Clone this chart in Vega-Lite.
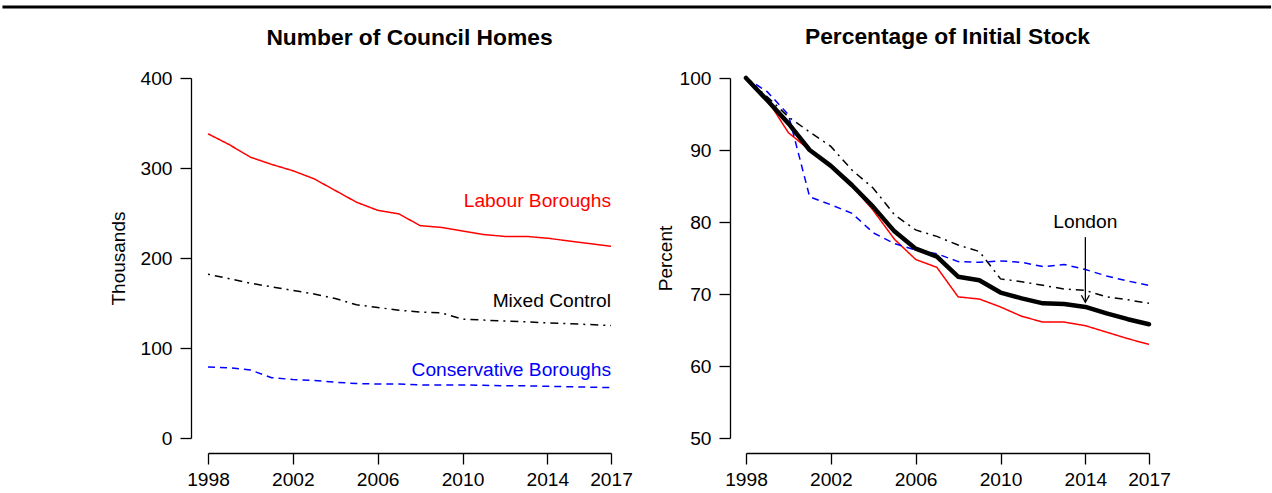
{
  "$schema": "https://vega.github.io/schema/vega-lite/v6.json",
  "padding": {"left": 0, "top": 5, "right": 0, "bottom": 0},
  "bounds": "flush",
  "spacing": 135,
  "config": {
    "view": {"stroke": null},
    "font": "Liberation Sans",
    "axis": {
      "domainColor": "black", "tickColor": "black", "labelColor": "black", "titleColor": "black",
      "labelFont": "Liberation Sans", "titleFont": "Liberation Sans",
      "labelFontSize": 19.2, "titleFontSize": 19, "titleFontWeight": "normal",
      "tickSize": 11, "grid": false, "domainWidth": 1.3, "tickWidth": 1.3,
      "labelFlush": false, "labelOverlap": false, "labelBound": false
    },
    "title": {"font": "Liberation Sans", "fontSize": 22.8, "fontWeight": "bold", "color": "black", "frame": "group", "baseline": "alphabetic", "offset": 30}
  },
  "datasets": {
    "homes": [
      {"year": 1998, "group": "Labour", "value": 338}, {"year": 1999, "group": "Labour", "value": 326},
      {"year": 2000, "group": "Labour", "value": 312}, {"year": 2001, "group": "Labour", "value": 304},
      {"year": 2002, "group": "Labour", "value": 297}, {"year": 2003, "group": "Labour", "value": 288},
      {"year": 2004, "group": "Labour", "value": 275}, {"year": 2005, "group": "Labour", "value": 262},
      {"year": 2006, "group": "Labour", "value": 253}, {"year": 2007, "group": "Labour", "value": 249},
      {"year": 2008, "group": "Labour", "value": 236}, {"year": 2009, "group": "Labour", "value": 234},
      {"year": 2010, "group": "Labour", "value": 230}, {"year": 2011, "group": "Labour", "value": 226},
      {"year": 2012, "group": "Labour", "value": 224}, {"year": 2013, "group": "Labour", "value": 224},
      {"year": 2014, "group": "Labour", "value": 222}, {"year": 2015, "group": "Labour", "value": 219},
      {"year": 2016, "group": "Labour", "value": 216}, {"year": 2017, "group": "Labour", "value": 213},
      {"year": 1998, "group": "Mixed", "value": 182}, {"year": 1999, "group": "Mixed", "value": 177},
      {"year": 2000, "group": "Mixed", "value": 172}, {"year": 2001, "group": "Mixed", "value": 168},
      {"year": 2002, "group": "Mixed", "value": 164}, {"year": 2003, "group": "Mixed", "value": 160},
      {"year": 2004, "group": "Mixed", "value": 155}, {"year": 2005, "group": "Mixed", "value": 148},
      {"year": 2006, "group": "Mixed", "value": 145}, {"year": 2007, "group": "Mixed", "value": 142},
      {"year": 2008, "group": "Mixed", "value": 140}, {"year": 2009, "group": "Mixed", "value": 139},
      {"year": 2010, "group": "Mixed", "value": 132}, {"year": 2011, "group": "Mixed", "value": 131},
      {"year": 2012, "group": "Mixed", "value": 130}, {"year": 2013, "group": "Mixed", "value": 129},
      {"year": 2014, "group": "Mixed", "value": 128}, {"year": 2015, "group": "Mixed", "value": 127},
      {"year": 2016, "group": "Mixed", "value": 126}, {"year": 2017, "group": "Mixed", "value": 125},
      {"year": 1998, "group": "Conservative", "value": 79}, {"year": 1999, "group": "Conservative", "value": 78},
      {"year": 2000, "group": "Conservative", "value": 75.5}, {"year": 2001, "group": "Conservative", "value": 67},
      {"year": 2002, "group": "Conservative", "value": 65}, {"year": 2003, "group": "Conservative", "value": 64},
      {"year": 2004, "group": "Conservative", "value": 62}, {"year": 2005, "group": "Conservative", "value": 60.5},
      {"year": 2006, "group": "Conservative", "value": 60}, {"year": 2007, "group": "Conservative", "value": 60},
      {"year": 2008, "group": "Conservative", "value": 59}, {"year": 2009, "group": "Conservative", "value": 59},
      {"year": 2010, "group": "Conservative", "value": 59}, {"year": 2011, "group": "Conservative", "value": 58.5},
      {"year": 2012, "group": "Conservative", "value": 58}, {"year": 2013, "group": "Conservative", "value": 58},
      {"year": 2014, "group": "Conservative", "value": 57.5}, {"year": 2015, "group": "Conservative", "value": 57},
      {"year": 2016, "group": "Conservative", "value": 56.5}, {"year": 2017, "group": "Conservative", "value": 56}
    ],
    "pct": [
      {"year": 1998, "group": "Labour", "value": 100}, {"year": 1999, "group": "Labour", "value": 97.0},
      {"year": 2000, "group": "Labour", "value": 92.4}, {"year": 2001, "group": "Labour", "value": 90.0},
      {"year": 2002, "group": "Labour", "value": 87.8}, {"year": 2003, "group": "Labour", "value": 85.1},
      {"year": 2004, "group": "Labour", "value": 81.6}, {"year": 2005, "group": "Labour", "value": 77.6},
      {"year": 2006, "group": "Labour", "value": 74.8}, {"year": 2007, "group": "Labour", "value": 73.7},
      {"year": 2008, "group": "Labour", "value": 69.6}, {"year": 2009, "group": "Labour", "value": 69.3},
      {"year": 2010, "group": "Labour", "value": 68.2}, {"year": 2011, "group": "Labour", "value": 66.9},
      {"year": 2012, "group": "Labour", "value": 66.1}, {"year": 2013, "group": "Labour", "value": 66.1},
      {"year": 2014, "group": "Labour", "value": 65.6}, {"year": 2015, "group": "Labour", "value": 64.7},
      {"year": 2016, "group": "Labour", "value": 63.8}, {"year": 2017, "group": "Labour", "value": 63.0},
      {"year": 1998, "group": "Mixed", "value": 100}, {"year": 1999, "group": "Mixed", "value": 97.4},
      {"year": 2000, "group": "Mixed", "value": 94.6}, {"year": 2001, "group": "Mixed", "value": 92.5},
      {"year": 2002, "group": "Mixed", "value": 90.5}, {"year": 2003, "group": "Mixed", "value": 87.2},
      {"year": 2004, "group": "Mixed", "value": 84.7}, {"year": 2005, "group": "Mixed", "value": 81.0},
      {"year": 2006, "group": "Mixed", "value": 78.9}, {"year": 2007, "group": "Mixed", "value": 78.0},
      {"year": 2008, "group": "Mixed", "value": 76.8}, {"year": 2009, "group": "Mixed", "value": 75.9},
      {"year": 2010, "group": "Mixed", "value": 72.1}, {"year": 2011, "group": "Mixed", "value": 71.7},
      {"year": 2012, "group": "Mixed", "value": 71.2}, {"year": 2013, "group": "Mixed", "value": 70.7},
      {"year": 2014, "group": "Mixed", "value": 70.5}, {"year": 2015, "group": "Mixed", "value": 69.6},
      {"year": 2016, "group": "Mixed", "value": 69.2}, {"year": 2017, "group": "Mixed", "value": 68.7},
      {"year": 1998, "group": "Conservative", "value": 100}, {"year": 1999, "group": "Conservative", "value": 98.1},
      {"year": 2000, "group": "Conservative", "value": 94.9}, {"year": 2001, "group": "Conservative", "value": 83.5},
      {"year": 2002, "group": "Conservative", "value": 82.4}, {"year": 2003, "group": "Conservative", "value": 81.2},
      {"year": 2004, "group": "Conservative", "value": 78.5}, {"year": 2005, "group": "Conservative", "value": 77.0},
      {"year": 2006, "group": "Conservative", "value": 76.1}, {"year": 2007, "group": "Conservative", "value": 75.6},
      {"year": 2008, "group": "Conservative", "value": 74.5}, {"year": 2009, "group": "Conservative", "value": 74.4},
      {"year": 2010, "group": "Conservative", "value": 74.6}, {"year": 2011, "group": "Conservative", "value": 74.4},
      {"year": 2012, "group": "Conservative", "value": 73.8}, {"year": 2013, "group": "Conservative", "value": 74.1},
      {"year": 2014, "group": "Conservative", "value": 73.4}, {"year": 2015, "group": "Conservative", "value": 72.5},
      {"year": 2016, "group": "Conservative", "value": 71.8}, {"year": 2017, "group": "Conservative", "value": 71.2},
      {"year": 1998, "group": "London", "value": 100}, {"year": 1999, "group": "London", "value": 96.9},
      {"year": 2000, "group": "London", "value": 93.7}, {"year": 2001, "group": "London", "value": 90.0},
      {"year": 2002, "group": "London", "value": 87.8}, {"year": 2003, "group": "London", "value": 85.1},
      {"year": 2004, "group": "London", "value": 82.1}, {"year": 2005, "group": "London", "value": 78.7},
      {"year": 2006, "group": "London", "value": 76.3}, {"year": 2007, "group": "London", "value": 75.2},
      {"year": 2008, "group": "London", "value": 72.4}, {"year": 2009, "group": "London", "value": 71.9},
      {"year": 2010, "group": "London", "value": 70.2}, {"year": 2011, "group": "London", "value": 69.4},
      {"year": 2012, "group": "London", "value": 68.7}, {"year": 2013, "group": "London", "value": 68.6},
      {"year": 2014, "group": "London", "value": 68.2}, {"year": 2015, "group": "London", "value": 67.3},
      {"year": 2016, "group": "London", "value": 66.5}, {"year": 2017, "group": "London", "value": 65.8}
    ]
  },
  "hconcat": [
    {
      "width": 403,
      "height": 360,
      "title": {"text": "Number of Council Homes", "dy": 74},
      "layer": [
        {
          "data": {"name": "homes"},
          "mark": {"type": "line", "strokeWidth": 1.5},
          "encoding": {
            "x": {"field": "year", "type": "quantitative",
                  "scale": {"domain": [1998, 2017], "nice": false, "zero": false},
                  "axis": {"values": [1998, 2002, 2006, 2010, 2014, 2017], "format": "d", "title": null, "offset": 15, "labelPadding": 6}},
            "y": {"field": "value", "type": "quantitative",
                  "scale": {"domain": [0, 400], "nice": false},
                  "axis": {"values": [0, 100, 200, 300, 400], "title": "Thousands", "offset": 17, "labelPadding": 8, "titlePadding": 11}},
            "color": {"field": "group", "type": "nominal", "legend": null,
                      "scale": {"domain": ["Labour", "Mixed", "Conservative", "London"], "range": ["#ff0000", "#000000", "#0000ff", "#000000"]}},
            "strokeDash": {"field": "group", "type": "nominal", "legend": null,
                      "scale": {"domain": ["Labour", "Mixed", "Conservative", "London"], "range": [[1, 0], [2, 5, 8, 5], [7, 5], [1, 0]]}}
          }
        },
        {
          "data": {"values": [{}]},
          "mark": {"type": "rule", "color": "black", "strokeWidth": 3, "clip": false},
          "encoding": {
            "x": {"datum": 1988.31, "type": "quantitative"},
            "x2": {"datum": 2048.12},
            "y": {"datum": 479, "type": "quantitative"}
          }
        },
        {
          "data": {"values": [{}]},
          "mark": {"type": "text", "align": "right", "baseline": "middle", "fontSize": 19.2, "color": "#ff0000"},
          "encoding": {"x": {"datum": 2017, "type": "quantitative"}, "y": {"datum": 263, "type": "quantitative"}, "text": {"value": "Labour Boroughs"}}
        },
        {
          "data": {"values": [{}]},
          "mark": {"type": "text", "align": "right", "baseline": "middle", "fontSize": 19.2, "color": "#000000"},
          "encoding": {"x": {"datum": 2017, "type": "quantitative"}, "y": {"datum": 152, "type": "quantitative"}, "text": {"value": "Mixed Control"}}
        },
        {
          "data": {"values": [{}]},
          "mark": {"type": "text", "align": "right", "baseline": "middle", "fontSize": 19.2, "color": "#0000ff"},
          "encoding": {"x": {"datum": 2017, "type": "quantitative"}, "y": {"datum": 75.5, "type": "quantitative"}, "text": {"value": "Conservative Boroughs"}}
        }
      ]
    },
    {
      "width": 403,
      "height": 360,
      "title": {"text": "Percentage of Initial Stock", "dy": 10},
      "layer": [
        {
          "data": {"name": "pct"},
          "transform": [{"filter": "datum.group !== 'London'"}],
          "mark": {"type": "line", "strokeWidth": 1.5},
          "encoding": {
            "x": {"field": "year", "type": "quantitative",
                  "scale": {"domain": [1998, 2017], "nice": false, "zero": false},
                  "axis": {"values": [1998, 2002, 2006, 2010, 2014, 2017], "format": "d", "title": null, "offset": 15, "labelPadding": 6}},
            "y": {"field": "value", "type": "quantitative",
                  "scale": {"domain": [50, 100], "nice": false, "zero": false},
                  "axis": {"values": [50, 60, 70, 80, 90, 100], "title": "Percent", "offset": 16, "labelPadding": 8, "titlePadding": 3}},
            "color": {"field": "group", "type": "nominal", "legend": null,
                      "scale": {"domain": ["Labour", "Mixed", "Conservative", "London"], "range": ["#ff0000", "#000000", "#0000ff", "#000000"]}},
            "strokeDash": {"field": "group", "type": "nominal", "legend": null,
                      "scale": {"domain": ["Labour", "Mixed", "Conservative", "London"], "range": [[1, 0], [2, 5, 8, 5], [7, 5], [1, 0]]}}
          }
        },
        {
          "data": {"name": "pct"},
          "transform": [{"filter": "datum.group === 'London'"}],
          "mark": {"type": "line", "strokeWidth": 4.5, "color": "#000000", "strokeCap": "round", "strokeJoin": "round"},
          "encoding": {
            "x": {"field": "year", "type": "quantitative"},
            "y": {"field": "value", "type": "quantitative"}
          }
        },
        {
          "data": {"values": [{}]},
          "mark": {"type": "text", "align": "center", "baseline": "middle", "fontSize": 19.2, "color": "#000000"},
          "encoding": {"x": {"datum": 2014, "type": "quantitative"}, "y": {"datum": 80, "type": "quantitative"}, "text": {"value": "London"}}
        },
        {
          "data": {"values": [{}]},
          "mark": {"type": "rule", "color": "black", "strokeWidth": 1.3},
          "encoding": {
            "x": {"datum": 2014, "type": "quantitative"},
            "y": {"datum": 77.9, "type": "quantitative"},
            "y2": {"datum": 68.85}
          }
        },
        {
          "data": {"values": [{}]},
          "mark": {"type": "point", "shape": "M-1,-1.75L0,0L1,-1.75", "size": 64, "filled": false, "stroke": "black", "strokeWidth": 1.3, "opacity": 1},
          "encoding": {
            "x": {"datum": 2014, "type": "quantitative"},
            "y": {"datum": 68.85, "type": "quantitative"}
          }
        }
      ]
    }
  ]
}
